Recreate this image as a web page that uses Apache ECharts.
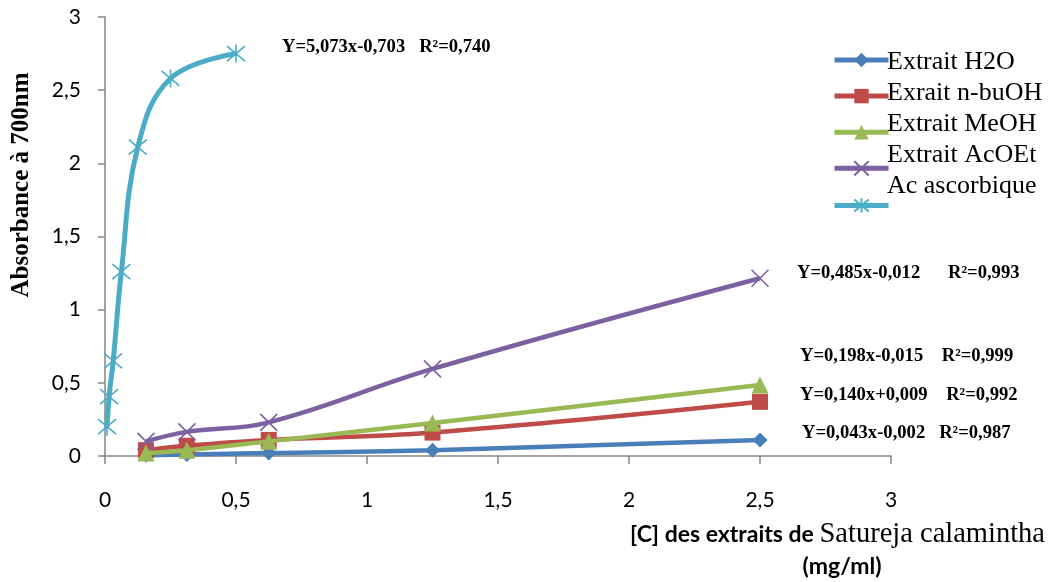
<!DOCTYPE html>
<html>
<head>
<meta charset="utf-8">
<script src="https://cdn.jsdelivr.net/npm/echarts@6/dist/echarts.min.js"></script>
<style>html,body{margin:0;padding:0;background:#fff;}#c{width:1056px;height:582px;}</style>
</head>
<body>
<div id="c"></div>
<script>
const seriesNames = ['Extrait H2O', 'Exrait n-buOH', 'Extrait MeOH', 'Extrait AcOEt', 'Ac ascorbique'];
const extractConc = [0.15625, 0.3125, 0.625, 1.25, 2.5];
const ascorbicConc = [0.0078, 0.0156, 0.03125, 0.0625, 0.125, 0.25, 0.5];
const h2oAbs = [0.005, 0.01, 0.02, 0.04, 0.11];
const buohAbs = [0.04, 0.07, 0.11, 0.16, 0.37];
const meohAbs = [0.02, 0.04, 0.10, 0.225, 0.485];
const acoetAbs = [0.10, 0.165, 0.23, 0.595, 1.215];
const ascorbicAbs = [0.20, 0.405, 0.65, 1.26, 2.11, 2.58, 2.75];
const xTicks = [0, 0.5, 1, 1.5, 2, 2.5, 3];
const yTicks = [0, 0.5, 1, 1.5, 2, 2.5, 3];
const equations = [
  'Y=5,073x-0,703   R²=0,740',
  'Y=0,485x-0,012      R²=0,993',
  'Y=0,198x-0,015    R²=0,999',
  'Y=0,140x+0,009    R²=0,992',
  'Y=0,043x-0,002   R²=0,987'
];
const yTitle = 'Absorbance à 700nm';
const xTitleA = '[C] des extraits de ';
const xTitleB = 'Satureja calamintha';
const xTitle2 = '(mg/ml)';

const colors = ['#4A7EBB', '#BE4B48', '#98B954', '#7D60A0', '#4BACC6'];
const symbols = [
  'diamond', 'rect', 'triangle',
  'path://M0,0 L10,10 M10,0 L0,10',
  'path://M0,0 L10,10 M10,0 L0,10 M5,-1 L5,11'
];
const symSizes = [15, 16, 17, 17, 18];
const pairs = (xs, ys) => xs.map((x, i) => [x, ys[i]]);
const datasets = [
  pairs(extractConc, h2oAbs),
  pairs(extractConc, buohAbs),
  pairs(extractConc, meohAbs),
  pairs(extractConc, acoetAbs),
  pairs(ascorbicConc, ascorbicAbs)
];
const fmt = v => String(v).replace('.', ',');
const tickFont = 'Lato, "Open Sans", sans-serif';

const series = seriesNames.map((n, i) => {
  const isPath = i >= 3;
  return {
    name: n, type: 'line', data: datasets[i], smooth: 0.4,
    symbol: symbols[i], symbolSize: symSizes[i],
    lineStyle: { color: colors[i], width: i === 4 ? 5 : 4.5 },
    itemStyle: isPath ? { color: 'rgba(0,0,0,0)', borderColor: colors[i], borderWidth: 1.6 } : { color: colors[i] },
    emphasis: { disabled: true },
    z: 2 + i
  };
});

const eqPos = [[282, 47], [797, 273], [800, 356], [800, 395], [802, 433]];
const graphics = equations.map((t, i) => ({
  type: 'text', x: eqPos[i][0], y: eqPos[i][1],
  style: { text: t, font: 'bold 18.6px "Liberation Serif", serif', fill: '#000', textVerticalAlign: 'middle' }
}));
graphics.push({
  type: 'text', x: 22, y: 185, rotation: Math.PI / 2,
  style: { text: yTitle, font: 'bold 25px "Liberation Serif", serif', fill: '#000', textAlign: 'center', textVerticalAlign: 'middle' }
});
graphics.push({
  type: 'text', x: 630, y: 535,
  style: {
    text: '{a|' + xTitleA + '}{b|' + xTitleB + '}',
    rich: {
      a: { font: 'bold 23px ' + tickFont, fill: '#000' },
      b: { font: '28.5px "Liberation Serif", serif', fill: '#000' }
    },
    textVerticalAlign: 'middle'
  }
});
graphics.push({
  type: 'text', x: 842, y: 567,
  style: { text: xTitle2, font: 'bold 23px ' + tickFont, fill: '#000', textAlign: 'center', textVerticalAlign: 'middle' }
});

const chart = echarts.init(document.getElementById('c'), null, { renderer: 'canvas' });
chart.setOption({
  animation: false,
  grid: { left: 105, right: 165, top: 17, bottom: 126 },
  xAxis: {
    type: 'value', min: xTicks[0], max: xTicks[xTicks.length - 1], interval: 0.5,
    axisLine: { lineStyle: { color: '#868686', width: 1.5 } },
    axisTick: { show: true, length: 8, lineStyle: { color: '#868686', width: 1.5 } },
    splitLine: { show: false },
    axisLabel: { margin: 34, color: '#000', fontSize: 21, fontFamily: tickFont, formatter: fmt }
  },
  yAxis: {
    type: 'value', min: yTicks[0], max: yTicks[yTicks.length - 1], interval: 0.5,
    axisLine: { show: true, lineStyle: { color: '#868686', width: 1.5 } },
    axisTick: { show: true, length: 7, lineStyle: { color: '#868686', width: 1.5 } },
    splitLine: { show: false },
    axisLabel: { margin: 24, color: '#000', fontSize: 21, fontFamily: tickFont, formatter: fmt }
  },
  legend: [
    {
      data: seriesNames, orient: 'vertical', left: 832, top: 51, padding: 0,
      itemWidth: 54, itemHeight: 18, itemGap: 19.9, selectedMode: false,
      lineStyle: { width: 5 },
      formatter: () => '', textStyle: { fontSize: 1 }
    },
    {
      data: seriesNames.map(n => ({ name: n, icon: 'none' })), orient: 'vertical', left: 887, top: 47, padding: 0,
      itemWidth: 0, itemHeight: 10, itemGap: 0, selectedMode: false,
      textStyle: { fontFamily: '"Liberation Serif", serif', fontSize: 26, color: '#000', lineHeight: 31, padding: [0, 0, 0, -5] }
    }
  ],
  graphic: graphics,
  series: series
});
</script>
</body>
</html>
